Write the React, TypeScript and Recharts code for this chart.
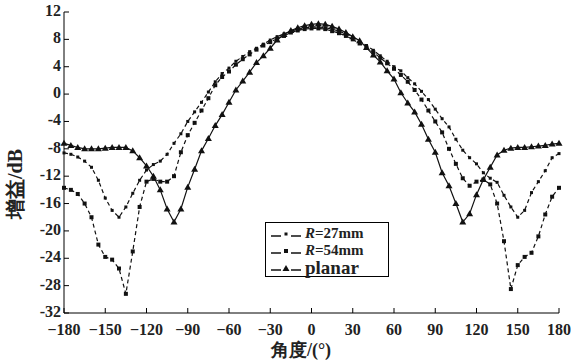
import { LineChart, Line, XAxis, YAxis } from 'recharts';

const angles = [
  -180, -175, -170, -165, -160, -155, -150, -145, -140, -135, -130, -125, -120,
  -115, -110, -105, -100, -95, -90, -85, -80, -75, -70, -65, -60, -55, -50, -45,
  -40, -35, -30, -25, -20, -15, -10, -5, 0, 5, 10, 15, 20, 25, 30, 35, 40, 45,
  50, 55, 60, 65, 70, 75, 80, 85, 90, 95, 100, 105, 110, 115, 120, 125, 130,
  135, 140, 145, 150, 155, 160, 165, 170, 175, 180,
];

const r27 = [
  -8.6, -8.8, -9.2, -9.8, -10.7, -12.6, -15.2, -17.0, -18.0, -16.5, -14.5, -12.6, -11.1,
  -10.3, -9.8, -8.8, -7.2, -5.8, -4.0, -2.6, -1.2, 0.3, 1.8, 3.0, 3.8, 4.8, 5.5, 6.2,
  6.7, 7.3, 7.9, 8.4, 8.8, 9.2, 9.5, 9.7, 9.8, 9.8, 9.7, 9.5, 9.2, 8.8, 8.3, 7.7, 7.1, 6.4,
  5.6, 4.8, 4.0, 3.4, 2.4, 1.5, 0.4, -0.8, -2.2, -3.6, -4.8, -6.6, -8.2, -9.3, -10.2, -11.5, -12.3,
  -12.9, -14.8, -16.5, -18.0, -17.0, -14.4, -12.8, -11.2, -9.3, -8.7,
];

const r54 = [
  -13.7, -14.0, -14.6, -16.0, -18.0, -22.0, -23.8, -24.2, -25.5, -29.2, -23.0, -16.5, -12.8,
  -12.4, -12.8, -12.8, -12.0, -8.5, -6.0, -4.2, -2.4, -0.6, 1.3, 2.5, 3.3, 4.3, 5.1, 5.8,
  6.5, 7.1, 7.6, 8.1, 8.5, 9.0, 9.3, 9.5, 9.6, 9.6, 9.5, 9.2, 8.9, 8.5, 8.0, 7.4, 6.8, 6.1,
  5.3, 4.5, 3.7, 2.8, 1.8, 0.6, -0.8, -2.4, -4.0, -5.6, -8.0, -10.2, -12.3, -13.4, -12.8, -12.5, -13.2,
  -16.0, -21.5, -28.5, -25.0, -23.8, -23.2, -20.8, -17.6, -15.0, -13.7,
];

const planar = [
  -7.2, -7.5, -7.8, -8.0, -8.0, -8.0, -7.9, -7.8, -7.8, -7.8, -8.3, -9.3, -10.5,
  -12.0, -14.0, -16.8, -18.7, -16.8, -13.6, -11.0, -8.3, -6.5, -4.6, -3.0, -1.2, 0.6, 1.9, 3.2,
  4.6, 5.6, 6.7, 7.9, 8.7, 9.3, 9.7, 10.0, 10.2, 10.3, 10.2, 9.9, 9.5, 9.0, 8.4, 7.8, 6.8, 5.7,
  4.7, 3.4, 2.2, 0.2, -1.3, -2.6, -4.4, -6.6, -8.5, -11.5, -13.4, -16.0, -18.7, -17.5, -14.7, -12.5, -10.7,
  -8.9, -8.2, -7.9, -7.8, -7.8, -7.7, -7.6, -7.5, -7.3, -7.2,
];

const xTicks = [-180, -150, -120, -90, -60, -30, 0, 30, 60, 90, 120, 150, 180];
const yTicks = [-32, -28, -24, -20, -16, -12, -8, -4, 0, 4, 8, 12];

const data = angles.map((a, i) => ({ angle: a, r27: r27[i], r54: r54[i], planar: planar[i] }));

const FONT = '"Liberation Serif", "Times New Roman", serif';

const XTick = (props: any) => {
  const { x, y, payload } = props;
  const v = payload.value;
  return (
    <g>
      <line x1={x} x2={x} y1={y - 8} y2={y - 13} stroke="#000" strokeWidth={1} />
      <text x={x} y={y + 14} textAnchor="middle" fontFamily={FONT} fontWeight="bold" fontSize={16} fill="#222">
        {v < 0 ? '\u2212' + Math.abs(v) : v}
      </text>
    </g>
  );
};

const YTick = (props: any) => {
  const { x, y, payload } = props;
  return (
    <g>
      <line x1={x + 3} x2={x + 8} y1={y} y2={y} stroke="#000" strokeWidth={1} />
      <text x={x} y={y + 4} textAnchor="end" fontFamily={FONT} fontWeight="bold" fontSize={16} fill="#222">
        {payload.value}
      </text>
    </g>
  );
};

const SmallSquare = (props: any) => {
  const { cx, cy, index } = props;
  return <rect key={'a' + index} x={cx - 1.5} y={cy - 1.5} width={3} height={3} fill="#111" />;
};

const BigSquare = (props: any) => {
  const { cx, cy, index } = props;
  return <rect key={'b' + index} x={cx - 2} y={cy - 2} width={4} height={4} fill="#111" />;
};

const Tri = (props: any) => {
  const { cx, cy, index } = props;
  return (
    <path key={'t' + index} d={`M${cx},${cy - 3.5} L${cx + 3.5},${cy + 2.5} L${cx - 3.5},${cy + 2.5} Z`} fill="#111" />
  );
};

const legendRows = [
  { name: 'R27', kind: 'small' },
  { name: 'R54', kind: 'big' },
  { name: 'planar', kind: 'tri' },
];

const LegendBox = () => (
  <div
    style={{
      position: 'absolute',
      left: 265,
      top: 222,
      boxSizing: 'border-box',
      border: '1px solid #000',
      background: '#fff',
      width: 124,
      height: 55,
      padding: '2px 0 0 4px',
      fontFamily: FONT,
      fontWeight: 'bold',
      color: '#222',
    }}
  >
    {legendRows.map((r) => (
      <div key={r.name} style={{ display: 'flex', alignItems: 'center', height: 17, lineHeight: '17px' }}>
        <svg width={34} height={12}>
          <line x1={1} x2={11} y1={8} y2={8} stroke="#111" strokeWidth={1.5} />
          <line x1={21} x2={31} y1={8} y2={8} stroke="#111" strokeWidth={1.5} />
          {r.kind === 'small' && <rect x={14.5} y={4.5} width={3} height={3} fill="#111" />}
          {r.kind === 'big' && <rect x={14} y={4} width={4} height={4} fill="#111" />}
          {r.kind === 'tri' && <path d="M16,3 L19.5,9 L12.5,9 Z" fill="#111" />}
        </svg>
        {r.name === 'planar' ? (
          <span style={{ fontSize: 19, marginLeft: 1 }}>planar</span>
        ) : (
          <span style={{ fontSize: 15, marginLeft: 1 }}>
            <i>R</i>={r.name === 'R27' ? '27' : '54'}mm
          </span>
        )}
      </div>
    ))}
  </div>
);

export default function App() {
  return (
    <div style={{ position: 'absolute', left: 0, top: 0, width: 571, height: 363, background: '#fff' }}>
      <LineChart width={571} height={363} data={data} margin={{ top: 12, right: 12, left: 0, bottom: 0 }}>
        <XAxis
          dataKey="angle"
          type="number"
          domain={[-180, 180]}
          ticks={xTicks}
          tickSize={0}
          tickMargin={8}
          tick={<XTick />}
          height={50}
          stroke="#000"
          interval={0}
          label={{
            content: () => (
              <text x={301} y={356} textAnchor="middle" fontFamily={FONT} fontWeight="bold" fontSize={18} fill="#222">
                角度/(°)
              </text>
            ),
          }}
        />
        <YAxis
          type="number"
          domain={[-32, 12]}
          ticks={yTicks}
          tickSize={0}
          tickMargin={3}
          tick={<YTick />}
          width={64}
          stroke="#000"
          interval={0}
          label={{
            content: () => (
              <text
                x={15}
                y={184}
                transform="rotate(-90 15 184)"
                textAnchor="middle"
                dominantBaseline="central"
                fontFamily={FONT}
                fontWeight="bold"
                fontSize={20}
                fill="#222"
              >
                增益/dB
              </text>
            ),
          }}
        />
        <Line
          dataKey="r27"
          stroke="#111"
          strokeWidth={1.2}
          strokeDasharray="4 3"
          dot={SmallSquare}
          activeDot={false}
          isAnimationActive={false}
        />
        <Line
          dataKey="r54"
          stroke="#111"
          strokeWidth={1.2}
          strokeDasharray="4 3"
          dot={BigSquare}
          activeDot={false}
          isAnimationActive={false}
        />
        <Line
          dataKey="planar"
          stroke="#111"
          strokeWidth={1.2}
          dot={Tri}
          activeDot={false}
          isAnimationActive={false}
        />
      </LineChart>
      <LegendBox />
    </div>
  );
}
